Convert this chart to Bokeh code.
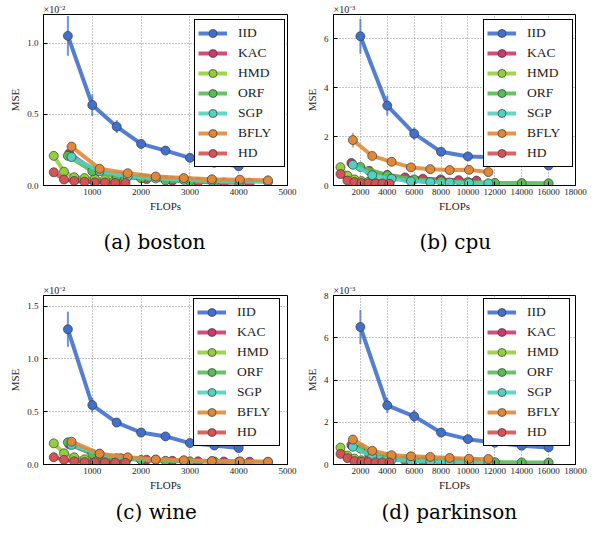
from bokeh.plotting import figure
from bokeh.models import (ColumnDataSource, Range1d, FixedTicker, PrintfTickFormatter,
                          Legend, LegendItem, Title)
from bokeh.layouts import column, row
from bokeh.embed import file_html
from bokeh.resources import INLINE

# ---------------- data ----------------
series_names = ["IID", "KAC", "HMD", "ORF", "SGP", "BFLY", "HD"]
series_colors = ["#4170CC", "#CC3B6B", "#93CF3C", "#58BC55", "#52D1C0", "#E0883A", "#D65353"]

# boston / wine FLOPs grids
bw_x_iid = [500, 1000, 1500, 2000, 2500, 3000, 3500, 4000]      # IID, ORF
bw_x_kac = [528, 1056, 1584, 2112, 2640, 3168, 3696, 4224]
bw_x_hd = [210, 420, 630, 840, 1050, 1260, 1470, 1680]          # HMD, HD
bw_x_bfly = [575, 1150, 1725, 2300, 2875, 3450, 4025, 4600]     # SGP, BFLY
# cpu / parkinson FLOPs grids
cp_x_iid = [2000, 4000, 6000, 8000, 10000, 12000, 14000, 16000]
cp_x_kac = [1330, 2660, 3990, 5320, 6650, 7980, 9310, 10640]
cp_x_hd = [520, 1040, 1560, 2080, 2600, 3120, 3640, 4160]
cp_x_bfly = [1440, 2880, 4320, 5760, 7200, 8640, 10080, 11520]

# (a) boston, MSE x 1e-2
a_iid_y = [1.05, 0.565, 0.413, 0.292, 0.245, 0.194, 0.16, 0.135]
a_kac_y = [0.225, 0.1, 0.062, 0.045, 0.033, 0.025, 0.021, 0.019]
a_hmd_y = [0.208, 0.097, 0.058, 0.052, 0.046, 0.043, 0.041, 0.04]
a_orf_y = [0.208, 0.1, 0.065, 0.05, 0.035, 0.028, 0.024, 0.022]
a_sgp_y = [0.2, 0.1, 0.065, 0.05, 0.04, 0.033, 0.028, 0.025]
a_bfly_y = [0.273, 0.117, 0.086, 0.063, 0.052, 0.044, 0.041, 0.036]
a_hd_y = [0.093, 0.042, 0.032, 0.026, 0.022, 0.021, 0.018, 0.017]
a_iid_err = [0.14, 0.075, 0.045, 0.03, 0.022, 0.016, 0.013, 0.011]
a_kac_err = [0.02, 0.008, 0.005, 0.004, 0.003, 0.002, 0.002, 0.002]
a_hmd_err = [0.015, 0.007, 0.004, 0.003, 0.003, 0.002, 0.002, 0.002]
a_orf_err = [0.015, 0.008, 0.005, 0.004, 0.003, 0.002, 0.002, 0.002]
a_sgp_err = [0.015, 0.008, 0.005, 0.004, 0.003, 0.003, 0.002, 0.002]
a_bfly_err = [0.025, 0.012, 0.008, 0.006, 0.005, 0.004, 0.003, 0.003]
a_hd_err = [0.008, 0.004, 0.003, 0.002, 0.002, 0.002, 0.001, 0.001]

# (b) cpu, MSE x 1e-3
b_iid_y = [6.11, 3.27, 2.12, 1.38, 1.19, 1.16, 0.98, 0.82]
b_kac_y = [0.92, 0.6, 0.43, 0.33, 0.28, 0.25, 0.22, 0.2]
b_hmd_y = [0.75, 0.4, 0.25, 0.18, 0.15, 0.13, 0.12, 0.11]
b_orf_y = [0.76, 0.42, 0.25, 0.18, 0.14, 0.11, 0.1, 0.09]
b_sgp_y = [0.85, 0.42, 0.28, 0.17, 0.14, 0.12, 0.1, 0.09]
b_bfly_y = [1.86, 1.21, 0.97, 0.74, 0.67, 0.63, 0.64, 0.55]
b_hd_y = [0.47, 0.2, 0.14, 0.1, 0.09, 0.08, 0.08, 0.07]
b_iid_err = [0.72, 0.4, 0.25, 0.12, 0.1, 0.08, 0.07, 0.06]
b_kac_err = [0.1, 0.05, 0.04, 0.03, 0.03, 0.02, 0.02, 0.02]
b_hmd_err = [0.08, 0.04, 0.03, 0.02, 0.02, 0.01, 0.01, 0.01]
b_orf_err = [0.08, 0.04, 0.03, 0.02, 0.02, 0.01, 0.01, 0.01]
b_sgp_err = [0.09, 0.05, 0.03, 0.02, 0.02, 0.01, 0.01, 0.01]
b_bfly_err = [0.3, 0.12, 0.07, 0.05, 0.04, 0.04, 0.04, 0.04]
b_hd_err = [0.06, 0.03, 0.02, 0.01, 0.01, 0.01, 0.01, 0.01]

# (c) wine, MSE x 1e-2
c_iid_y = [1.28, 0.5625, 0.397, 0.303, 0.266, 0.203, 0.18, 0.156]
c_kac_y = [0.19, 0.09, 0.06, 0.045, 0.035, 0.03, 0.028, 0.026]
c_hmd_y = [0.2, 0.106, 0.068, 0.05, 0.043, 0.038, 0.035, 0.032]
c_orf_y = [0.21, 0.1, 0.06, 0.043, 0.035, 0.03, 0.028, 0.025]
c_sgp_y = [0.185, 0.1, 0.06, 0.045, 0.035, 0.03, 0.027, 0.024]
c_bfly_y = [0.216, 0.103, 0.068, 0.047, 0.04, 0.032, 0.029, 0.026]
c_hd_y = [0.069, 0.044, 0.03, 0.023, 0.02, 0.019, 0.018, 0.016]
c_iid_err = [0.165, 0.07, 0.035, 0.022, 0.02, 0.015, 0.014, 0.012]
c_kac_err = [0.015, 0.007, 0.005, 0.004, 0.003, 0.002, 0.002, 0.002]
c_hmd_err = [0.015, 0.008, 0.005, 0.004, 0.003, 0.003, 0.002, 0.002]
c_orf_err = [0.015, 0.008, 0.005, 0.004, 0.003, 0.002, 0.002, 0.002]
c_sgp_err = [0.015, 0.008, 0.005, 0.004, 0.003, 0.002, 0.002, 0.002]
c_bfly_err = [0.02, 0.01, 0.006, 0.004, 0.003, 0.003, 0.002, 0.002]
c_hd_err = [0.006, 0.004, 0.003, 0.002, 0.002, 0.001, 0.001, 0.001]

# (d) parkinson, MSE x 1e-3
d_iid_y = [6.51, 2.8, 2.28, 1.51, 1.2, 1.03, 0.89, 0.81]
d_kac_y = [0.92, 0.45, 0.26, 0.2, 0.16, 0.14, 0.12, 0.11]
d_hmd_y = [0.8, 0.42, 0.28, 0.2, 0.16, 0.14, 0.12, 0.11]
d_orf_y = [0.75, 0.35, 0.22, 0.16, 0.13, 0.11, 0.1, 0.09]
d_sgp_y = [0.84, 0.37, 0.22, 0.16, 0.14, 0.12, 0.11, 0.1]
d_bfly_y = [1.18, 0.65, 0.44, 0.39, 0.36, 0.31, 0.27, 0.26]
d_hd_y = [0.5, 0.3, 0.16, 0.13, 0.11, 0.1, 0.1, 0.09]
d_iid_err = [0.8, 0.36, 0.3, 0.12, 0.09, 0.07, 0.06, 0.05]
d_kac_err = [0.1, 0.05, 0.03, 0.02, 0.02, 0.01, 0.01, 0.01]
d_hmd_err = [0.08, 0.04, 0.03, 0.02, 0.02, 0.01, 0.01, 0.01]
d_orf_err = [0.08, 0.04, 0.03, 0.02, 0.02, 0.01, 0.01, 0.01]
d_sgp_err = [0.09, 0.04, 0.03, 0.02, 0.02, 0.01, 0.01, 0.01]
d_bfly_err = [0.12, 0.06, 0.04, 0.03, 0.03, 0.02, 0.02, 0.02]
d_hd_err = [0.05, 0.03, 0.02, 0.01, 0.01, 0.01, 0.01, 0.01]

bw_x_ticks = [1000, 2000, 3000, 4000, 5000]
cp_x_ticks = [2000, 4000, 6000, 8000, 10000, 12000, 14000, 16000, 18000]
a_y_ticks = [0.0, 0.5, 1.0]
b_y_ticks = [0, 2, 4, 6]
c_y_ticks = [0.0, 0.5, 1.0, 1.5]
d_y_ticks = [0, 2, 4, 6, 8]

SERIF = "Liberation Serif"


def make_panel(xs, ys, errs, x_end, y_end, xticks, yticks, yfmt, mult, caption,
               W, H, mbl, mbr, mbt, mbb, leg_loc, leg_lw, cap_offset, cap_standoff):
    p = figure(width=W, height=H, output_backend="svg", toolbar_location=None,
               title=None,
               x_range=Range1d(0, x_end), y_range=Range1d(0, y_end),
               min_border_left=mbl, min_border_right=mbr,
               min_border_top=mbt, min_border_bottom=mbb)
    p.background_fill_color = "white"
    p.border_fill_color = "white"
    p.outline_line_color = "black"
    p.outline_line_width = 1
    p.outline_line_alpha = 1

    xt = FixedTicker(ticks=xticks)
    yt = FixedTicker(ticks=yticks)
    p.xaxis.ticker = xt
    p.yaxis.ticker = yt
    p.xgrid.ticker = xt
    p.ygrid.ticker = yt
    p.yaxis.formatter = PrintfTickFormatter(format=yfmt)
    p.xaxis.formatter = PrintfTickFormatter(format="%d")
    for ax in (p.xaxis, p.yaxis):
        ax.major_tick_in = 4
        ax.major_tick_out = 0
        ax.minor_tick_line_color = None
        ax.axis_line_color = "black"
        ax.major_tick_line_color = "black"
        ax.major_label_text_font = SERIF
        ax.major_label_text_font_size = "9px"
        ax.major_label_text_color = "#222222"
        ax.axis_label_text_font = SERIF
        ax.axis_label_text_font_size = "11px"
        ax.axis_label_text_font_style = "normal"
        ax.axis_label_text_color = "#222222"
    p.xaxis.axis_label = "FLOPs"
    p.yaxis.axis_label = "MSE"
    p.xaxis.major_label_standoff = 3
    p.xaxis.axis_label_standoff = 2
    p.yaxis.major_label_standoff = 5
    p.yaxis.axis_label_standoff = 3

    p.grid.grid_line_color = "#808080"
    p.grid.grid_line_dash = "1 2"
    p.grid.grid_line_width = 1
    p.grid.grid_line_alpha = 0.9

    items = []
    for name, color, x, y, e in zip(series_names, series_colors, xs, ys, errs):
        src = ColumnDataSource(dict(
            x=x, y=y,
            lo=[v - d for v, d in zip(y, e)],
            hi=[v + d for v, d in zip(y, e)]))
        p.segment(x0="x", y0="lo", x1="x", y1="hi", source=src,
                  line_color=color, line_width=2, line_alpha=0.75)
        ln = p.line("x", "y", source=src, line_color=color, line_width=4, line_alpha=0.9)
        sc = p.scatter("x", "y", source=src, marker="circle", size=9,
                       fill_color=color, fill_alpha=1, line_color="#3a3a3a", line_width=0.7)
        items.append(LegendItem(label=name, renderers=[ln, sc]))

    leg = Legend(items=items, location=leg_loc, glyph_width=29, glyph_height=20,
                 label_height=20, label_width=leg_lw, label_standoff=11, spacing=0,
                 padding=3, margin=0, border_line_color="black", border_line_width=1,
                 border_line_alpha=1, background_fill_color="white", background_fill_alpha=1,
                 label_text_font=SERIF, label_text_font_size="13.5px",
                 label_text_color="#222222")
    p.add_layout(leg)

    p.add_layout(Title(text=mult, align="left", offset=0, standoff=0,
                       text_font=SERIF, text_font_size="10px", text_font_style="normal",
                       text_color="#222222"), "above")
    p.add_layout(Title(text=caption, align="left", offset=cap_offset, standoff=cap_standoff,
                       text_font="DejaVu Serif", text_font_size="20px",
                       text_font_style="normal", text_color="black"), "below")
    return p


pa = make_panel([bw_x_iid, bw_x_kac, bw_x_hd, bw_x_iid, bw_x_bfly, bw_x_bfly, bw_x_hd],
                [a_iid_y, a_kac_y, a_hmd_y, a_orf_y, a_sgp_y, a_bfly_y, a_hd_y],
                [a_iid_err, a_kac_err, a_hmd_err, a_orf_err, a_sgp_err, a_bfly_err, a_hd_err],
                5000, 1.2, bw_x_ticks, a_y_ticks, "%.1f", "×10⁻²", "(a) boston",
                298, 280, 43, 11, 14, 95, (151, 18), 43, 60, 26)
pb = make_panel([cp_x_iid, cp_x_kac, cp_x_hd, cp_x_iid, cp_x_bfly, cp_x_bfly, cp_x_hd],
                [b_iid_y, b_kac_y, b_hmd_y, b_orf_y, b_sgp_y, b_bfly_y, b_hd_y],
                [b_iid_err, b_kac_err, b_hmd_err, b_orf_err, b_sgp_err, b_bfly_err, b_hd_err],
                18000, 7, cp_x_ticks, b_y_ticks, "%d", "×10⁻³", "(b) cpu",
                289, 280, 35, 12, 14, 95, (150, 18), 42, 86, 26)
pc = make_panel([bw_x_iid, bw_x_kac, bw_x_hd, bw_x_iid, bw_x_bfly, bw_x_bfly, bw_x_hd],
                [c_iid_y, c_kac_y, c_hmd_y, c_orf_y, c_sgp_y, c_bfly_y, c_hd_y],
                [c_iid_err, c_kac_err, c_hmd_err, c_orf_err, c_sgp_err, c_bfly_err, c_hd_err],
                5000, 1.6, bw_x_ticks, c_y_ticks, "%.1f", "×10⁻²", "(c) wine",
                298, 247, 43, 11, 15, 61, (150, 18), 39, 72, 8)
pd_ = make_panel([cp_x_iid, cp_x_kac, cp_x_hd, cp_x_iid, cp_x_bfly, cp_x_bfly, cp_x_hd],
                 [d_iid_y, d_kac_y, d_hmd_y, d_orf_y, d_sgp_y, d_bfly_y, d_hd_y],
                 [d_iid_err, d_kac_err, d_hmd_err, d_orf_err, d_sgp_err, d_bfly_err, d_hd_err],
                 18000, 8, cp_x_ticks, d_y_ticks, "%d", "×10⁻³", "(d) parkinson",
                 289, 247, 35, 12, 15, 61, (150, 18), 39, 48, 8)

layout = column(row(pa, pb), row(pc, pd_))
open("out.html", "w").write(file_html(layout, INLINE))
